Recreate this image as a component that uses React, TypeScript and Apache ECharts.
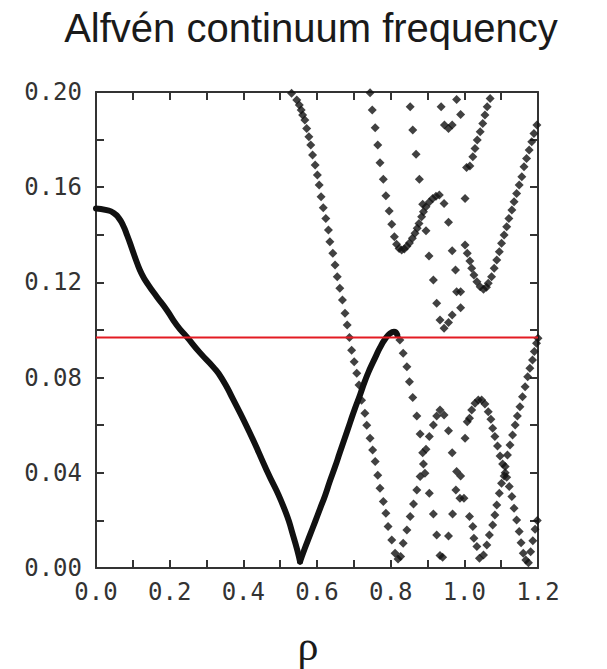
import { useEffect, useRef } from 'react';
import * as echarts from 'echarts';

type Pt = [number, number];

const xTickLabels = ['0.0', '0.2', '0.4', '0.6', '0.8', '1.0', '1.2'];
const yTickLabels = ['0.00', '0.04', '0.08', '0.12', '0.16', '0.20'];
const redLevel = 0.0968;

// dense branch from the axis down to the first zero
const coreBranch: Pt[] = [
  [0.0, 0.1511], [0.029, 0.1504], [0.048, 0.1492], [0.062, 0.147], [0.074, 0.1438],
  [0.085, 0.1396], [0.097, 0.1345], [0.11, 0.1288], [0.124, 0.1236], [0.142, 0.119],
  [0.165, 0.114], [0.192, 0.1084], [0.219, 0.1021], [0.246, 0.0972], [0.282, 0.0905],
  [0.318, 0.0845], [0.341, 0.0798], [0.373, 0.0706], [0.418, 0.0566], [0.463, 0.0412],
  [0.509, 0.0258], [0.536, 0.0132], [0.554, 0.0027],
];

// dense branch rising to the peak near the red line
const risingBranch: Pt[] = [
  [0.554, 0.0027], [0.567, 0.0083], [0.581, 0.0139], [0.595, 0.0195], [0.608, 0.0248],
  [0.622, 0.0305], [0.635, 0.0365], [0.649, 0.0425], [0.662, 0.0485], [0.676, 0.0548],
  [0.69, 0.0612], [0.703, 0.067], [0.717, 0.0728], [0.73, 0.0785], [0.744, 0.0838],
  [0.758, 0.0884], [0.771, 0.0926], [0.785, 0.0962], [0.798, 0.0985], [0.809, 0.0993],
  [0.818, 0.0979],
];

const outerArm: Pt[] = [
  [0.531, 0.1995], [0.545, 0.1966], [0.552, 0.1945], [0.557, 0.1924], [0.561, 0.1903],
  [0.567, 0.1882], [0.572, 0.1847], [0.578, 0.1812], [0.583, 0.1777], [0.588, 0.1735],
  [0.595, 0.1693], [0.601, 0.1651], [0.606, 0.1609], [0.611, 0.156], [0.617, 0.1514],
  [0.624, 0.1469], [0.631, 0.142], [0.635, 0.1371], [0.643, 0.1322], [0.649, 0.1273],
  [0.655, 0.1224], [0.662, 0.1175], [0.669, 0.1126], [0.676, 0.107], [0.682, 0.1021],
  [0.688, 0.0968], [0.694, 0.0915], [0.701, 0.0867], [0.708, 0.0818], [0.714, 0.0769],
  [0.721, 0.0705], [0.73, 0.065], [0.735, 0.06], [0.744, 0.0545], [0.751, 0.0496],
  [0.758, 0.0447], [0.765, 0.039], [0.771, 0.0335], [0.78, 0.0279], [0.787, 0.023],
  [0.793, 0.0174], [0.803, 0.0118], [0.812, 0.0062], [0.82, 0.0038],
];

const troughArm: Pt[] = [
  [0.827, 0.0048], [0.834, 0.0104], [0.844, 0.016], [0.853, 0.0216], [0.862, 0.0269],
  [0.871, 0.0328], [0.88, 0.0384], [0.889, 0.0437], [0.896, 0.0499], [0.905, 0.0552],
  [0.916, 0.0601], [0.925, 0.0639], [0.934, 0.0664], [0.945, 0.0643], [0.957, 0.0577],
  [0.967, 0.0484], [0.979, 0.0405], [0.988, 0.0293], [0.999, 0.0293], [1.014, 0.0216],
  [1.023, 0.0174], [1.026, 0.0125], [1.034, 0.009], [1.041, 0.0041], [1.052, 0.0055],
  [1.061, 0.0097], [1.068, 0.0139], [1.077, 0.0181], [1.083, 0.0223], [1.088, 0.0265],
  [1.095, 0.0314], [1.101, 0.0356], [1.108, 0.0387], [1.111, 0.0426], [1.117, 0.0475],
  [1.124, 0.0517], [1.131, 0.0559], [1.138, 0.0601], [1.144, 0.0639], [1.151, 0.0678],
  [1.158, 0.072], [1.165, 0.0762], [1.172, 0.0804], [1.178, 0.0839], [1.185, 0.0874],
  [1.19, 0.091], [1.196, 0.0944], [1.2, 0.0965],
];

const peakArm: Pt[] = [
  [0.825, 0.0958], [0.834, 0.0902], [0.844, 0.0846], [0.851, 0.0783], [0.86, 0.0716],
  [0.871, 0.0639], [0.88, 0.0563], [0.887, 0.0484], [0.893, 0.0398], [0.905, 0.0314],
  [0.916, 0.0227], [0.925, 0.0139], [0.934, 0.0052], [0.941, 0.0045], [0.957, 0.0134],
  [0.968, 0.0227], [0.977, 0.0328], [0.99, 0.0387],
];

const humpArm: Pt[] = [
  [1.002, 0.0545], [1.008, 0.0615], [1.014, 0.0629], [1.02, 0.0664], [1.029, 0.0692],
  [1.038, 0.0706], [1.047, 0.0706], [1.056, 0.0689], [1.065, 0.0657], [1.072, 0.0625],
  [1.077, 0.0587], [1.083, 0.0552], [1.09, 0.0513], [1.097, 0.0471], [1.104, 0.0437],
  [1.111, 0.04], [1.115, 0.0381], [1.122, 0.0342], [1.129, 0.03], [1.135, 0.0251],
  [1.142, 0.0202], [1.149, 0.0153], [1.154, 0.0106], [1.16, 0.0062], [1.167, 0.0034],
  [1.174, 0.0022], [1.18, 0.0068], [1.186, 0.0115], [1.192, 0.0163], [1.198, 0.02],
];

const upperVArm: Pt[] = [
  [0.744, 0.1997], [0.75, 0.1924], [0.758, 0.185], [0.765, 0.1777], [0.771, 0.1703],
  [0.78, 0.1633], [0.787, 0.1564], [0.796, 0.15], [0.803, 0.1444], [0.81, 0.1392],
  [0.816, 0.136], [0.823, 0.1342], [0.83, 0.1336], [0.837, 0.134], [0.844, 0.1352],
  [0.851, 0.1366], [0.859, 0.1385], [0.866, 0.1406], [0.872, 0.1427], [0.877, 0.1448],
  [0.884, 0.1476], [0.889, 0.1497], [0.896, 0.1518], [0.905, 0.1538], [0.914, 0.1553],
  [0.923, 0.1562], [0.932, 0.1567],
];

const steepArm: Pt[] = [
  [0.853, 0.1938], [0.86, 0.184], [0.869, 0.1738], [0.878, 0.1633], [0.887, 0.1528],
  [0.896, 0.1417], [0.904, 0.1311], [0.916, 0.121], [0.925, 0.1112], [0.934, 0.1042],
  [0.945, 0.1007], [0.957, 0.1031], [0.967, 0.1063], [0.99, 0.1094], [0.979, 0.1161],
  [0.99, 0.1161], [0.976, 0.1252], [0.967, 0.1333], [0.957, 0.1453], [0.945, 0.1532],
];

const upperDots: Pt[] = [
  [0.937, 0.1938], [0.946, 0.1861], [0.957, 0.1847], [0.967, 0.1861], [0.979, 0.1968],
  [0.99, 0.1905], [1.002, 0.1553], [1.006, 0.1683], [1.015, 0.1689], [1.023, 0.1728],
  [1.029, 0.1763], [1.035, 0.1798], [1.043, 0.1833], [1.05, 0.1868], [1.056, 0.1903],
  [1.062, 0.1938], [1.07, 0.1973],
];

const rightVArm: Pt[] = [
  [1.002, 0.1357], [1.008, 0.1322], [1.015, 0.129], [1.02, 0.1259], [1.026, 0.1231],
  [1.034, 0.1203], [1.043, 0.1182], [1.052, 0.1171], [1.06, 0.118], [1.065, 0.1196],
  [1.074, 0.1224], [1.081, 0.1259], [1.088, 0.1294], [1.095, 0.1329], [1.101, 0.1364],
  [1.108, 0.1399], [1.115, 0.1434], [1.121, 0.1469], [1.129, 0.1504], [1.135, 0.1539],
  [1.142, 0.1574], [1.149, 0.1609], [1.156, 0.1644], [1.162, 0.1686], [1.169, 0.1721],
  [1.176, 0.1756], [1.183, 0.1791], [1.189, 0.1826], [1.197, 0.1861],
];

const sparseArms = [outerArm, troughArm, peakArm, humpArm, upperVArm, steepArm, upperDots, rightVArm];

const ink = '#111111';
const axisColor = '#333333';
const labelFont = '"DejaVu Sans Mono", monospace';

function xLabel(v: number) {
  const k = Math.round(v * 10);
  return k % 2 === 0 ? xTickLabels[k / 2] ?? '' : '';
}

function yLabel(v: number) {
  const k = Math.round(v * 100);
  return k % 4 === 0 ? yTickLabels[k / 4] ?? '' : '';
}

export default function App() {
  const chartRef = useRef<HTMLDivElement>(null);

  useEffect(() => {
    if (!chartRef.current) return;
    const chart = echarts.init(chartRef.current, null, { renderer: 'svg' });

    const axisLine = { show: true, onZero: false, lineStyle: { color: axisColor, width: 2 } };
    const axisTick = { show: true, inside: true, length: 8, lineStyle: { color: axisColor, width: 2 } };

    const denseLine = {
      type: 'line' as const,
      smooth: 0.6,
      symbol: 'none',
      lineStyle: { color: ink, width: 6, cap: 'round' as const, join: 'round' as const },
    };

    const option: echarts.EChartsOption = {
      animation: false,
      backgroundColor: '#ffffff',
      grid: { left: 96, top: 92, width: 442, height: 476 },
      graphic: [
        {
          type: 'text',
          x: 311,
          y: 28,
          style: {
            text: 'Alfvén continuum frequency',
            font: '40px "Liberation Sans", Arial, sans-serif',
            fill: '#1a1a1a',
            align: 'center',
            verticalAlign: 'middle',
          },
        },
        {
          type: 'text',
          x: 308,
          y: 646,
          style: {
            text: 'ρ',
            font: '42px "Liberation Serif", "Times New Roman", serif',
            fill: '#1a1a1a',
            align: 'center',
            verticalAlign: 'middle',
          },
        },
      ],
      xAxis: [
        {
          type: 'value',
          min: 0,
          max: 1.2,
          interval: 0.1,
          position: 'bottom',
          axisLine,
          axisTick,
          splitLine: { show: false },
          axisLabel: {
            formatter: xLabel,
            margin: 12,
            color: '#333333',
            fontFamily: labelFont,
            fontSize: 24,
          },
        },
        {
          type: 'value',
          min: 0,
          max: 1.2,
          interval: 0.1,
          position: 'top',
          axisLine,
          axisTick,
          splitLine: { show: false },
          axisLabel: { show: false },
        },
      ],
      yAxis: [
        {
          type: 'value',
          min: 0,
          max: 0.2,
          interval: 0.02,
          position: 'left',
          axisLine,
          axisTick,
          splitLine: { show: false },
          axisLabel: {
            formatter: yLabel,
            margin: 14,
            color: '#333333',
            fontFamily: labelFont,
            fontSize: 24,
          },
        },
        {
          type: 'value',
          min: 0,
          max: 0.2,
          interval: 0.02,
          position: 'right',
          axisLine,
          axisTick,
          splitLine: { show: false },
          axisLabel: { show: false },
        },
      ],
      series: [
        { ...denseLine, data: coreBranch },
        { ...denseLine, data: risingBranch },
        ...sparseArms.map((arm) => ({
          type: 'scatter' as const,
          data: arm,
          symbol: 'diamond',
          symbolSize: 9,
          itemStyle: { color: ink },
        })),
        {
          type: 'line',
          data: [
            [0, redLevel],
            [1.2, redLevel],
          ],
          symbol: 'none',
          z: 5,
          lineStyle: { color: '#e31b23', width: 2 },
        },
      ],
    };

    chart.setOption(option);

    return () => {
      chart.dispose();
    };
  }, []);

  return (
    <div
      ref={chartRef}
      style={{ position: 'absolute', left: 0, top: 0, width: 607, height: 669 }}
    />
  );
}
